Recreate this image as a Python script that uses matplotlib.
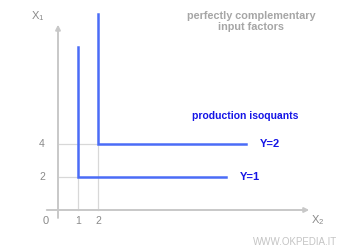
import matplotlib
matplotlib.use("Agg")
import matplotlib.pyplot as plt

plt.rcParams["font.family"] = ["Liberation Sans", "DejaVu Sans"]
plt.rcParams["mathtext.fontset"] = "custom"
plt.rcParams["mathtext.rm"] = "Liberation Sans"
plt.rcParams["mathtext.it"] = "Liberation Sans"

# Isoquant data (corner points, end of arms)
levels = ["Y=1", "Y=2"]
corner_x2 = [1, 2]
corner_x1 = [2, 4]
arm_top = [9.85, 11.85]
arm_right = [8.4, 9.4]
xticks = [1, 2]
yticks = [2, 4]

line_blue = "#4a6cf7"
text_blue = "#1515e6"
gray = "#c8c8c8"
text_gray = "#8a8a8a"

fig = plt.figure(figsize=(3.5, 2.5), dpi=100)
ax = fig.add_axes([0, 0, 1, 1])
ax.set_xlim(-2.9, 14.6)
ax.set_ylim(-2.424, 12.727)
ax.axis("off")

# axes arrows
ax.annotate("", xy=(12.7, 0), xytext=(-0.7, 0),
            arrowprops=dict(arrowstyle="-|>", color=gray, lw=1.4, mutation_scale=7))
ax.annotate("", xy=(0, 11.4), xytext=(0, -0.65),
            arrowprops=dict(arrowstyle="-|>", color=gray, lw=1.4, mutation_scale=7))

# guide lines
for cx, cy in zip(corner_x2, corner_x1):
    ax.plot([cx, cx], [0, cy], color="#d8d8d8", lw=0.9, zorder=1)
    ax.plot([0, cx], [cy, cy], color="#d8d8d8", lw=0.9, zorder=1)

# isoquants
for lab, cx, cy, top, right in zip(levels, corner_x2, corner_x1, arm_top, arm_right):
    ax.plot([cx, cx, right], [top, cy, cy], color=line_blue, lw=1.8,
            solid_joinstyle="miter", zorder=3)
    ax.text(right + 0.7, cy, lab, color=text_blue, fontsize=8,
            fontweight="bold", va="center", ha="left")

# ticks
for t in xticks:
    ax.text(t, -0.68, str(t), color=text_gray, fontsize=7.5, ha="center", va="center")
for t in yticks:
    ax.text(-0.65, t, str(t), color=text_gray, fontsize=7.5, ha="right", va="center")
ax.text(-0.45, -0.68, "0", color=text_gray, fontsize=8, ha="right", va="center")

# axis labels
ax.text(-1.0, 11.75, r"X$_1$", color=text_gray, fontsize=8, ha="center", va="center")
ax.text(13.0, -0.6, r"X$_2$", color=text_gray, fontsize=8, ha="center", va="center")

# titles
ax.text(9.65, 11.42, "perfectly complementary\ninput factors", color="#a6a6a6",
        fontsize=7.8, fontweight="bold", ha="center", va="center", linespacing=1.05)
ax.text(9.35, 5.7, "production isoquants", color=text_blue, fontsize=7.5,
        fontweight="bold", ha="center", va="center")
ax.text(13.95, -1.95, "WWW.OKPEDIA.IT", color="#c4c4c4", fontsize=7,
        ha="right", va="center")

fig.savefig("out.png", dpi=100)
